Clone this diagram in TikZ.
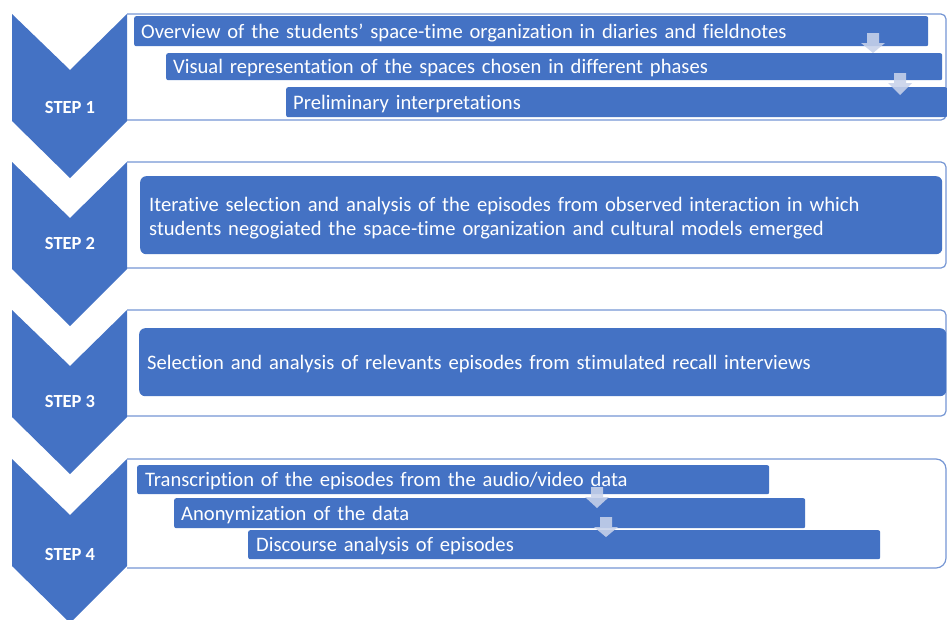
\documentclass[tikz,border=0pt]{standalone}
\usepackage{fontspec}
\setmainfont{Carlito}[Ligatures=NoCommon]
\definecolor{stepblue}{HTML}{4472C4}
\definecolor{frameblue}{HTML}{7596D4}
\definecolor{arrowfill}{HTML}{C8D2EA}

% light downward arrow between stacked bars: centre x, shaft top, head start, tip
\newcommand{\stagearrow}[4]{%
  \fill[flowarrow] (#1-6,#2) -- (#1+6,#2) -- (#1+6,#3) -- (#1+12,#3) -- (#1,#4)
    -- (#1-12,#3) -- (#1-6,#3) -- cycle;}
% chevron for one step, given its top edge
\newcommand{\stepchevron}[1]{%
  \fill[chevron] (12,#1) -- (70,#1+56) -- (127,#1) -- (127,#1+107)
    -- (70,#1+164) -- (12,#1+107) -- cycle;}

\begin{document}
\begin{tikzpicture}[x=1pt,y={(0pt,-1pt)},
  chevron/.style={fill=stepblue},
  frame/.style={draw=frameblue, line width=1.2pt, fill=white, rounded corners=5pt},
  bar/.style={fill=stepblue, text=white, rounded corners=2pt, anchor=north west,
    inner ysep=0pt, align=left, font=\fontsize{20.6}{23.5}\selectfont},
  onebar/.style={bar, text height=18pt, text depth=4pt},
  bigbar/.style={bar, rounded corners=6pt},
  steplabel/.style={text=white, font=\bfseries\fontsize{18.5}{21}\selectfont},
  flowarrow/.style={fill=arrowfill, fill opacity=0.88}
]
\useasboundingbox (0,0) rectangle (947,619);

% step frames (open on the left, where the chevron sits)
\draw[frame] (127,14) -- (946,14) -- (946,120) -- (127,120);
\draw[frame] (127,162) -- (946,162) -- (946,268) -- (127,268);
\draw[frame] (127,310) -- (946,310) -- (946,416) -- (127,416);
\draw[frame, rounded corners=10pt] (127,459) -- (946,459) -- (946,568) -- (127,568);

% chevrons
\stepchevron{14}
\stepchevron{162}
\stepchevron{310}
\stepchevron{459}

% step labels
\node[steplabel] (s1) at (70,107) {STEP 1};
\node[steplabel] (s2) at (70,243) {STEP 2};
\node[steplabel] (s3) at (70,401) {STEP 3};
\node[steplabel] (s4) at (70,554) {STEP 4};

% step 1
\node[onebar, minimum height=30pt, text width=780pt, inner xsep=7pt] (b11) at (134,16)
  {Overview of the students’ space-time organization in diaries and fieldnotes};
\node[onebar, minimum height=27pt, text width=762pt, inner xsep=7pt] (b12) at (166,53)
  {Visual representation of the spaces chosen in different phases};
\node[onebar, minimum height=30pt, text width=647pt, inner xsep=7pt] (b13) at (286,87)
  {Preliminary interpretations};
\stagearrow{873}{33}{43}{53}
\stagearrow{900}{73}{83}{95}

% step 2
\node[bigbar, minimum height=78pt, text width=784pt, inner xsep=9pt] (b21) at (140,176)
  {\rule{0pt}{20pt}Iterative selection and analysis of the episodes from observed interaction in which\\
   students negogiated the space-time organization and cultural models emerged};

% step 3
\node[bigbar, onebar, rounded corners=6pt, minimum height=68pt, text width=791pt, inner xsep=8pt] (b31) at (139,328)
  {Selection and analysis of relevants episodes from stimulated recall interviews};

% step 4
\node[onebar, minimum height=29pt, text width=616pt, inner xsep=8pt] (b41) at (137,465)
  {Transcription of the episodes from the audio/video data};
\node[onebar, minimum height=30pt, text width=617pt, inner xsep=7pt] (b42) at (174,498)
  {Anonymization of the data};
\node[onebar, minimum height=29pt, text width=616pt, inner xsep=8pt] (b43) at (248,530)
  {Discourse analysis of episodes};
\stagearrow{597}{487}{497}{508}
\stagearrow{606}{517}{527}{537}
\end{tikzpicture}
\end{document}
